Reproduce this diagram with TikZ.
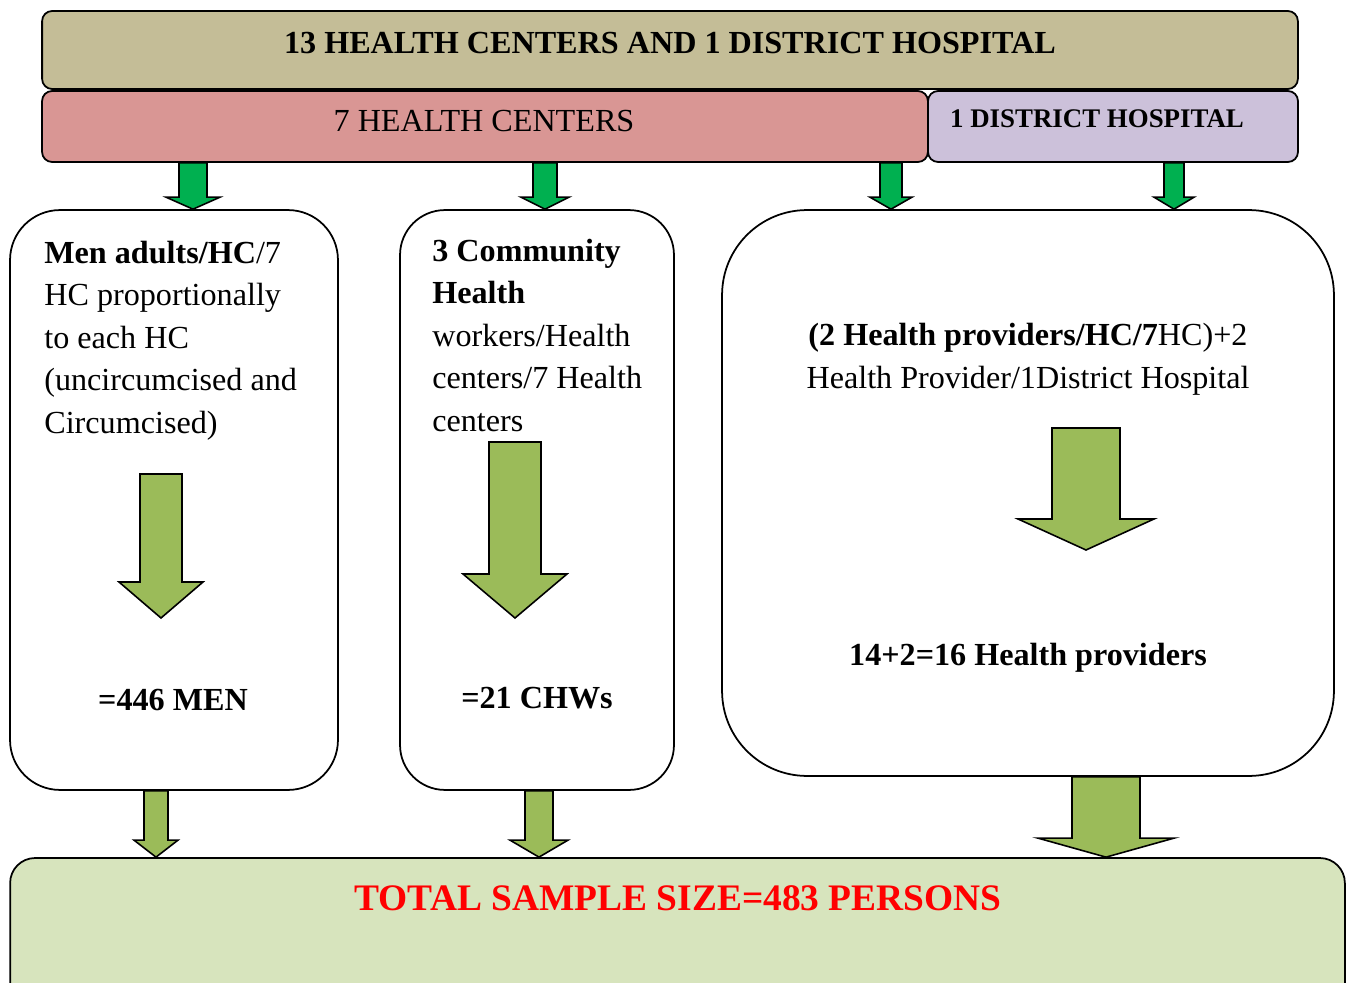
\documentclass[tikz,border=0pt]{standalone}
\usepackage{fontspec}
\setmainfont{Liberation Serif}
\usetikzlibrary{calc}
\definecolor{khaki}{HTML}{C4BD97}
\definecolor{rose}{HTML}{D99694}
\definecolor{lilac}{HTML}{CCC1DA}
\definecolor{sage}{HTML}{D7E4BD}
\definecolor{brightgreen}{HTML}{00B050}
\definecolor{leaf}{HTML}{9BBB59}
\newcommand{\fatarrow}[6]{\draw[#1] ($(#2)+(-#4,0)$) -- ($(#3)+(-#4,-#6)$) -- ($(#3)+(-#5,-#6)$) -- (#3) -- ($(#3)+(#5,-#6)$) -- ($(#3)+(#4,-#6)$) -- ($(#2)+(#4,0)$) -- cycle;}

\begin{document}
\begin{tikzpicture}[x=0.02cm,y=-0.02cm,bar/.style={draw=black,line width=1pt,rounded corners=0.2cm,inner sep=0pt},panel/.style={draw=black,line width=1pt,fill=white,inner sep=0pt},txt/.style={inner sep=0pt,font=\fontsize{18.3}{24.1}\selectfont},btxt/.style={inner sep=0pt,font=\bfseries\fontsize{18.3}{24.1}\selectfont},toparrow/.style={draw=black,line width=0.9pt,fill=brightgreen,line join=miter},bigarrow/.style={draw=black,line width=0.9pt,fill=leaf,line join=miter}]
\clip (0,0) rectangle (1346,983);
\node[bar,fill=khaki,minimum width=25.12cm,minimum height=1.56cm] (all) at (670,50) {};
\node[bar,fill=rose,minimum width=17.72cm,minimum height=1.42cm] (hc) at (485,126.5) {};
\node[bar,fill=lilac,minimum width=7.4cm,minimum height=1.42cm] (dh) at (1113,126.5) {};
\node[btxt,anchor=base] (alltxt) at (670,54) {13 HEALTH CENTERS AND 1 DISTRICT HOSPITAL};
\node[txt,anchor=base] (hctxt) at (484,132) {7 HEALTH CENTERS};
\node[inner sep=0pt,font=\bfseries\fontsize{15.3}{18}\selectfont,anchor=base] (dhtxt) at (1097,128) {1 DISTRICT HOSPITAL};
\node[panel,rounded corners=1cm,minimum width=6.56cm,minimum height=11.6cm] (men) at (174,500) {};
\node[panel,rounded corners=0.9cm,minimum width=5.48cm,minimum height=11.6cm] (chw) at (537,500) {};
\node[panel,rounded corners=1.7cm,minimum width=12.24cm,minimum height=11.32cm] (prov) at (1028,493) {};
\node[draw=black,line width=1pt,fill=sage,rounded corners=0.5cm,inner sep=0pt,minimum width=26.7cm,minimum height=3.2cm] (total) at (677.5,938) {};
\node[txt,anchor=base west,align=left] (mentxt) at (44,433) {\textbf{Men adults/HC}/7\\HC proportionally\\to each HC\\(uncircumcised and\\Circumcised)};
\node[txt,anchor=base west,align=left] (chwtxt) at (432,431) {\textbf{3 Community}\\\textbf{Health}\\workers/Health\\centers/7 Health\\centers};
\node[txt,anchor=base,align=center] (provtxt) at (1028,388) {\textbf{(2 Health providers/HC/7}HC)+2\\Health Provider/1District Hospital};
\node[btxt,anchor=base] (mennum) at (173,710) {=446 MEN};
\node[btxt,anchor=base] (chwnum) at (537,708) {=21 CHWs};
\node[btxt,anchor=base] (provnum) at (1028,665) {14+2=16 Health providers};
\node[inner sep=0pt,font=\bfseries\fontsize{21.3}{25}\selectfont,text=red,anchor=base] (totaltxt) at (678,910) {TOTAL SAMPLE SIZE=483 PERSONS};
\coordinate (c1) at (193,0);
\coordinate (c2) at (545,0);
\coordinate (c3) at (891,0);
\coordinate (c4) at (1174,0);
\coordinate (d1) at (156,0);
\coordinate (d2) at (539,0);
\coordinate (d3) at (1106,0);
\coordinate (m1) at (161,474);
\coordinate (m2) at (161,618);
\coordinate (n1) at (515,442);
\coordinate (n2) at (515,618);
\coordinate (p1) at (1086,428);
\coordinate (p2) at (1086,550);
\fatarrow{toparrow}{c1 |- hc.south}{c1 |- men.north}{14}{27}{12}
\fatarrow{toparrow}{c2 |- hc.south}{c2 |- chw.north}{12}{24}{12}
\fatarrow{toparrow}{c3 |- hc.south}{c3 |- prov.north}{11}{21}{12}
\fatarrow{toparrow}{c4 |- dh.south}{c4 |- prov.north}{10}{20}{12}
\fatarrow{bigarrow}{m1}{m2}{21}{42}{36}
\fatarrow{bigarrow}{n1}{n2}{26}{52}{44}
\fatarrow{bigarrow}{p1}{p2}{34}{68}{31}
\fatarrow{bigarrow}{d1 |- men.south}{d1 |- total.north}{12}{22}{17}
\fatarrow{bigarrow}{d2 |- chw.south}{d2 |- total.north}{14}{29}{17}
\fatarrow{bigarrow}{d3 |- prov.south}{d3 |- total.north}{34}{68}{19}
\end{tikzpicture}
\end{document}
